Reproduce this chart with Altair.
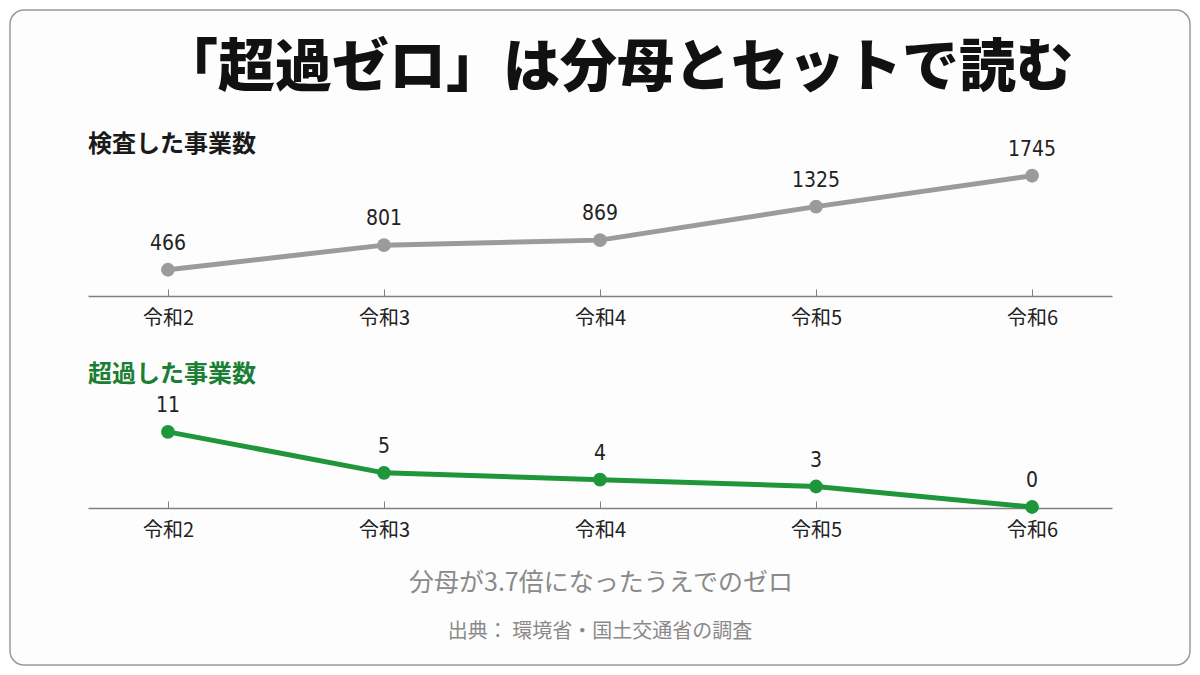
import pandas as pd
import altair as alt

YEARS = ["令和2", "令和3", "令和4", "令和5", "令和6"]
INSPECTED = [466, 801, 869, 1325, 1745]
EXCEEDED = [11, 5, 4, 3, 0]

TITLE = "「超過ゼロ」は分母とセットで読む"
TOP_LABEL = "検査した事業数"
BOTTOM_LABEL = "超過した事業数"
NOTE = "分母が3.7倍になったうえでのゼロ"
SOURCE = "出典： 環境省・国土交通省の調査"

GRAY = "#9b9b9b"
GREEN = "#1f963a"
DARK_GREEN = "#1a7f33"
AXIS_GRAY = "#808080"
FONT = "Noto Sans CJK JP"
NUM_FONT = "DejaVu Sans Condensed, Liberation Sans Narrow, Noto Sans CJK JP"


def main():
    df = pd.DataFrame({"year": YEARS, "inspected": INSPECTED, "exceeded": EXCEEDED})

    def x_enc(axis_y):
        # point scale over the axis line, ticks pointing up like the original
        return alt.X(
            "year:N",
            sort=YEARS,
            scale=alt.Scale(type="point", range=[78, 1102], padding=0.37),
            axis=alt.Axis(
                title=None,
                orient="top",
                offset=-axis_y,
                grid=False,
                domainColor=AXIS_GRAY,
                domainWidth=1.5,
                tickColor=AXIS_GRAY,
                tickWidth=1,
                tickSize=7,
                labelPadding=-29,
                labelBaseline="middle",
                labelFont=FONT,
                labelFontSize=20,
                labelColor="#222222",
                labelAngle=0,
            ),
        )

    # --- top panel: inspected projects
    y_top = alt.Y("inspected:Q", axis=None,
                  scale=alt.Scale(domain=[0, 2000], range=[294, 147], zero=False, nice=False))
    top_base = alt.Chart(df).encode(x=x_enc(286), y=y_top)
    top = alt.layer(
        top_base.mark_line(color=GRAY, strokeWidth=5),
        top_base.mark_circle(color=GRAY, size=190, opacity=1),
        top_base.mark_text(dy=-26, font=NUM_FONT, fontSize=21, color="#222222")
        .encode(text="inspected:Q"),
    )

    # --- bottom panel: exceeded projects
    y_bot = alt.Y("exceeded:Q", axis=None,
                  scale=alt.Scale(domain=[0, 12], range=[497, 415], zero=False, nice=False))
    bot_base = alt.Chart(df).encode(x=x_enc(498), y=y_bot)
    bottom = alt.layer(
        bot_base.mark_line(color=GREEN, strokeWidth=5),
        bot_base.mark_circle(color=GREEN, size=190, opacity=1),
        bot_base.mark_text(dy=-26, font=NUM_FONT, fontSize=21, color="#222222")
        .encode(text="exceeded:Q"),
    )

    one = pd.DataFrame({"t": [0]})

    def label(text, x, y, size, color, weight="normal", align="center"):
        return alt.Chart(one).mark_text(
            text=text, font=FONT, fontSize=size, color=color, fontWeight=weight,
            align=align, baseline="middle",
        ).encode(x=alt.value(x), y=alt.value(y))

    texts = alt.layer(
        label(TITLE, 607, 59, 57, "#111111", weight=900),
        label(TOP_LABEL, 78, 135, 24, "#1a1a1a", weight="bold", align="left"),
        label(BOTTOM_LABEL, 78, 365, 24, DARK_GREEN, weight="bold", align="left"),
        label(NOTE, 591, 573, 25, "#8a8a8a"),
        label(SOURCE, 590, 622, 20, "#8a8a8a"),
    )

    chart = (
        alt.layer(top, bottom, texts)
        .resolve_scale(x="independent", y="independent")
        .properties(
            width=1180,
            height=655,
            autosize=alt.AutoSizeParams(type="none"),
            padding={"left": 2, "top": 2, "right": 2, "bottom": 2},
            background="white",
        )
        .configure_view(stroke="#9a9a9a", strokeWidth=1.5, cornerRadius=14, fill="#fdfdfd")
    )

    chart.save("out.html", embed_options={"renderer": "svg", "actions": False})


if __name__ == "__main__":
    main()
